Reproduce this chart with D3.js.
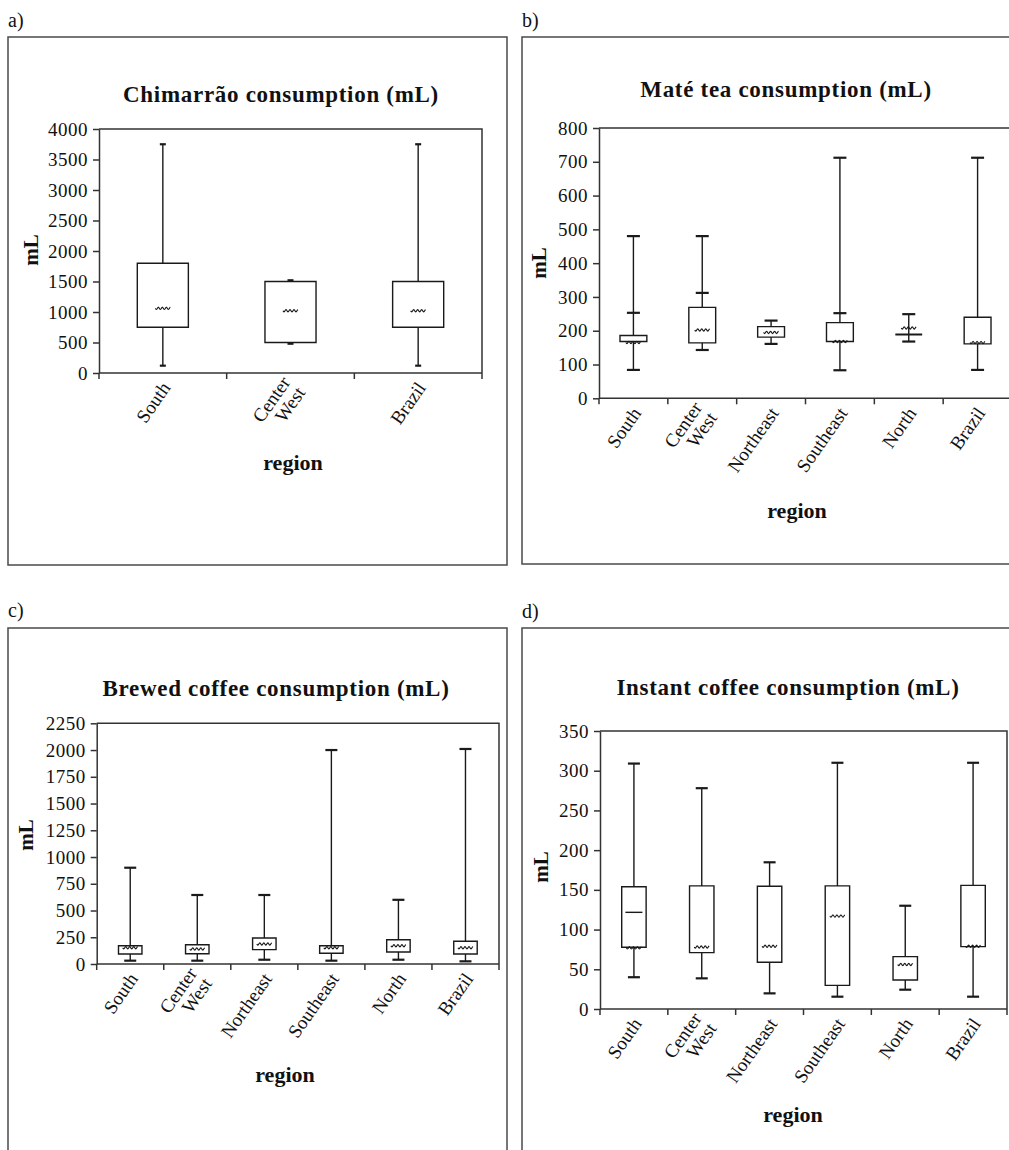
<!DOCTYPE html>
<html><head><meta charset="utf-8">
<script src="https://cdn.jsdelivr.net/npm/d3@7"></script>
<style>
body{margin:0;background:#fff;}
svg{display:block;}
svg text{font-family:"Liberation Serif",serif !important;fill:#111;}
</style></head><body>
<svg id="c" width="1009" height="1150"></svg>
<script>
// ---------- DATA ----------
const regions3 = ["South", "Center West", "Brazil"];
const regions6 = ["South", "Center West", "Northeast", "Southeast", "North", "Brazil"];

// a) Chimarrão
const chimTicks = [0, 500, 1000, 1500, 2000, 2500, 3000, 3500, 4000];
const chimMin = [120, 480, 120];
const chimQ1  = [750, 500, 750];
const chimMed = [1060, 1020, 1020];
const chimQ3  = [1800, 1500, 1500];
const chimMax = [3750, 1520, 3750];

// b) Maté tea
const mateTicks = [0, 100, 200, 300, 400, 500, 600, 700, 800];
const mateMin = [84, 143, 161, 83, 168, 84];
const mateQ1  = [168, 164, 181, 168, 189, 161];
const mateMed = [165, 202, 195, 168, 208, 165];
const mateQ3  = [186, 269, 212, 224, 189, 240];
const mateMax = [480, 480, 230, 712, 249, 712];
const mateMid = [253, 312, null, 252, null, null];

// c) Brewed coffee
const brewTicks = [0, 250, 500, 750, 1000, 1250, 1500, 1750, 2000, 2250];
const brewMin = [31, 31, 40, 31, 40, 25];
const brewQ1  = [93, 96, 134, 100, 112, 93];
const brewMed = [152, 140, 187, 152, 171, 152];
const brewQ3  = [171, 180, 243, 171, 227, 212];
const brewMax = [900, 645, 645, 2000, 600, 2010];

// d) Instant coffee
const instTicks = [0, 50, 100, 150, 200, 250, 300, 350];
const instMin = [40, 38.6, 19.7, 15.5, 24.3, 15.5];
const instQ1  = [77.7, 71, 58.8, 29.8, 36.5, 78.5];
const instMed = [77, 78, 79, 117, 56, 79];
const instQ3  = [154, 155, 154.5, 155, 66, 155.7];
const instMax = [309, 278, 184.7, 310, 130, 310];
const instLine = [121.7, null, null, null, null, null];

// ---------- LAYOUT ----------
const panels = [
  {tag:"a)", title:"Chimarrão consumption (mL)", cats:regions3, ticks:chimTicks, dom:[0,4000],
   min:chimMin,q1:chimQ1,med:chimMed,q3:chimQ3,max:chimMax,mid:null,line:null,
   frame:[8,37,499,528], plot:[99,482,129,373], titleXY:[281,102], ylabXY:[38,250], xlabXY:[293,470], tagXY:[8,27],
   boxFrac:0.4, cap:6},
  {tag:"b)", title:"Maté tea consumption (mL)", cats:regions6, ticks:mateTicks, dom:[0,800],
   min:mateMin,q1:mateQ1,med:mateMed,q3:mateQ3,max:mateMax,mid:mateMid,line:null,
   frame:[522,37,600,527], plot:[599,1012,128,398.3], titleXY:[786,97], ylabXY:[546,263], xlabXY:[797,518], tagXY:[522,27],
   boxFrac:0.39, cap:13},
  {tag:"c)", title:"Brewed coffee consumption (mL)", cats:regions6, ticks:brewTicks, dom:[0,2250],
   min:brewMin,q1:brewQ1,med:brewMed,q3:brewQ3,max:brewMax,mid:null,line:null,
   frame:[8,628,499,600], plot:[96.7,499,723.3,964], titleXY:[276,696], ylabXY:[33,835], xlabXY:[285,1082], tagXY:[8,617],
   boxFrac:0.35, cap:12},
  {tag:"d)", title:"Instant coffee consumption (mL)", cats:regions6, ticks:instTicks, dom:[0,350],
   min:instMin,q1:instQ1,med:instMed,q3:instQ3,max:instMax,mid:null,line:instLine,
   frame:[522,628,600,600], plot:[600,1007,731,1009], titleXY:[788,695], ylabXY:[548,867], xlabXY:[793,1122], tagXY:[522,618],
   boxFrac:0.36, cap:12}
];

const svg = d3.select("#c");
const INK = "#1a1a1a";
const SERIF = '"Liberation Serif", serif';

function wavyPath(cx, y, w) {
  const pts = [];
  for (let t = -w/2; t <= w/2 + 0.01; t += 0.5) pts.push([cx + t, y + 1.1*Math.sin(2*Math.PI*(t + w/2)/4)]);
  return d3.line()(pts);
}

panels.forEach(p => {
  const g = svg.append("g").style("font-family", SERIF);
  const [fx, fy, fw, fh] = p.frame;
  g.append("rect").attr("x", fx).attr("y", fy).attr("width", fw).attr("height", fh)
    .attr("fill", "none").attr("stroke", "#4a4a4a").attr("stroke-width", 1.5);
  g.append("text").attr("x", p.tagXY[0]).attr("y", p.tagXY[1]).style("font-family", SERIF).attr("font-size", 20).text(p.tag);

  const [x0, x1, y0, y1] = p.plot;
  const x = d3.scaleBand().domain(p.cats).range([x0, x1]).paddingInner(0).paddingOuter(0);
  const y = d3.scaleLinear().domain(p.dom).range([y1, y0]);

  g.append("path").attr("d", `M${x0},${y0}H${x1}V${y1}`).attr("fill", "none")
    .attr("stroke", "#333").attr("stroke-width", 1.5);

  const ya = g.append("g").attr("transform", `translate(${x0},0)`)
    .call(d3.axisLeft(y).tickValues(p.ticks).tickSize(6).tickSizeOuter(0).tickFormat(d3.format("d")));
  ya.attr("font-family", null).style("font-family", SERIF);
  ya.select(".domain").attr("stroke", "#333").attr("stroke-width", 1.5);
  ya.selectAll(".tick line").attr("stroke", "#333").attr("stroke-width", 1.5);
  ya.selectAll(".tick text").attr("x", -11).attr("font-size", 19).attr("letter-spacing", "0.5px")
    .style("font-family", SERIF).attr("fill", "#222");

  const xa = g.append("g").attr("transform", `translate(0,${y1})`);
  xa.append("line").attr("x1", x0).attr("x2", x1).attr("stroke", "#333").attr("stroke-width", 1.5);
  const edges = p.cats.map(c => x(c)).concat([x(p.cats[p.cats.length-1]) + x.bandwidth()]);
  xa.selectAll("line.t").data(edges).join("line").attr("class", "t")
    .attr("x1", d => d).attr("x2", d => d).attr("y1", 0).attr("y2", 6)
    .attr("stroke", "#333").attr("stroke-width", 1.5);

  p.cats.forEach(c => {
    const cx = x(c) + x.bandwidth()/2;
    const t = g.append("text").attr("transform", `translate(${cx+3},${y1+11}) rotate(-55)`)
      .attr("text-anchor", "end").attr("font-size", 19).style("font-family", SERIF).attr("fill", "#222");
    const parts = c.split(" ");
    if (parts.length === 1) {
      t.append("tspan").attr("x", 0).attr("dy", "0.35em").text(c);
    } else {
      t.append("tspan").attr("x", 0).attr("dy", "-0.15em").text(parts[0]);
      t.append("tspan").attr("x", 0).attr("dy", "0.95em").text(parts[1]);
    }
  });

  const bw = x.bandwidth() * p.boxFrac;
  p.cats.forEach((c, i) => {
    const cx = x(c) + x.bandwidth()/2;
    g.append("line").attr("x1", cx).attr("x2", cx).attr("y1", y(p.min[i])).attr("y2", y(p.max[i]))
      .attr("stroke", INK).attr("stroke-width", 1.4);
    [p.min[i], p.max[i]].concat(p.mid && p.mid[i] != null ? [p.mid[i]] : []).forEach(v => {
      g.append("line").attr("x1", cx - p.cap/2).attr("x2", cx + p.cap/2).attr("y1", y(v)).attr("y2", y(v))
        .attr("stroke", INK).attr("stroke-width", 2.2);
    });
    const yt = y(p.q3[i]), yb = y(p.q1[i]);
    g.append("path").attr("d", `M${cx-bw/2},${yt}H${cx+bw/2}V${yb}H${cx-bw/2}Z`)
      .attr("fill", "#fff").attr("stroke", INK).attr("stroke-width", yb - yt < 1 ? 2 : 1.4);
    if (p.line && p.line[i] != null) {
      g.append("line").attr("x1", cx - 8.5).attr("x2", cx + 8.5).attr("y1", y(p.line[i])).attr("y2", y(p.line[i]))
        .attr("stroke", INK).attr("stroke-width", 1.4);
    }
    g.append("path").attr("d", wavyPath(cx, y(p.med[i]), 15)).attr("fill", "none")
      .attr("stroke", INK).attr("stroke-width", 1.1);
  });

  g.append("text").attr("x", p.titleXY[0]).attr("y", p.titleXY[1]).attr("text-anchor", "middle").style("font-family", SERIF)
    .attr("font-size", 23).attr("font-weight", "bold").attr("letter-spacing", "0.7px").text(p.title);
  g.append("text").attr("transform", `translate(${p.ylabXY[0]},${p.ylabXY[1]}) rotate(-90)`).style("font-family", SERIF)
    .attr("text-anchor", "middle").attr("font-size", 21).attr("font-weight", "bold").text("mL");
  g.append("text").attr("x", p.xlabXY[0]).attr("y", p.xlabXY[1]).attr("text-anchor", "middle").style("font-family", SERIF)
    .attr("font-size", 22).attr("font-weight", "bold").text("region");
});
</script></body></html>
